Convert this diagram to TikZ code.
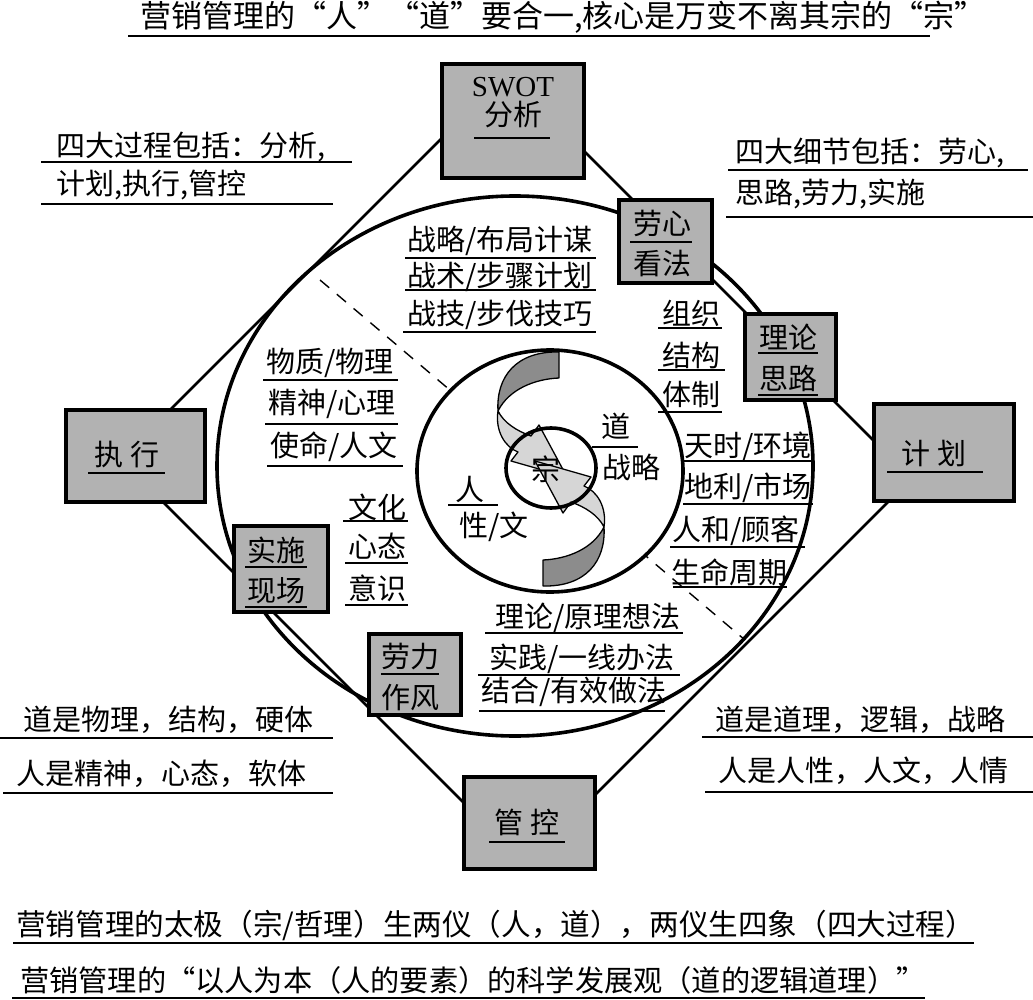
\documentclass[tikz,border=0pt]{standalone}
\usepackage{fontspec}
\setmainfont{Liberation Serif}
\newfontfamily\cjk{Noto Sans CJK SC}
\usetikzlibrary{calc}

\definecolor{boxgray}{gray}{0.70}
\definecolor{ribdark}{gray}{0.55}
\definecolor{riblight}{gray}{0.84}

\begin{document}
\begin{tikzpicture}[x=1pt,y=-1pt,
  lbl/.style={font=\cjk\fontsize{29}{34}\selectfont, inner sep=0pt},
  box/.style={draw, line width=4pt, fill=boxgray},
  ul/.style={line width=2pt},
  frame/.style={line width=2.6pt},
  ring/.style={line width=3.6pt},
  rib/.style={line width=1.3pt, line join=round},
  guide/.style={line width=1.4pt, dash pattern=on 12pt off 10pt}]
  \useasboundingbox (0,0) rectangle (1033,1000);

  % outer square of the four processes (corners hidden under the boxes)
  \coordinate (dT) at (506.5,73.5);
  \coordinate (dL) at (120.5,459.5);
  \coordinate (dB) at (525.5,864.5);
  \coordinate (dR) at (911.5,478.5);
  \draw[frame] (dT) -- (dL) -- (dB) -- (dR) -- cycle;

  % big ellipse of the four details
  \draw[ring] (515,466) ellipse [x radius=298pt, y radius=270pt];

  % dashed split, covered in the middle by the inner ellipse
  \coordinate (dashA) at (320,280);
  \coordinate (dashB) at (745,640);
  \draw[guide] (dashA) -- (dashB);

  % inner ellipse with the two twisted ribbons (ren / dao)
  \filldraw[ring, fill=white] (550,471) ellipse [x radius=133pt, y radius=121pt];
  \foreach \ang in {0,180} {
    \begin{scope}[shift={(551,469)}, rotate=\ang]
      \filldraw[rib, fill=ribdark] (8,-117) .. controls (-35,-118) and (-55,-92) .. (-53,-58)
        .. controls (-42,-80) and (-16,-90) .. (8,-91) -- cycle;
      \filldraw[rib, fill=riblight] (-53,-58) .. controls (-56,-38) and (-46,-22) .. (-33,-17)
        -- (-40,-8) -- (16,8) -- (-12,-44) -- (-20,-33)
        .. controls (-34,-38) and (-47,-46) .. (-53,-58) -- cycle;
    \end{scope}
  }
  \draw[ring] (551,468) ellipse [x radius=45pt, y radius=40pt];
  \node[lbl] (zong) at (546,469) {宗};

  % headline
  \node[lbl, font=\cjk\fontsize{31}{34}\selectfont] (title) at (563,17) {营销管理的“人”“道”要合一,核心是万变不离其宗的“宗”};
  \draw[ul] (128,36) -- (930,36);

  % side notes, top
  \node[lbl, anchor=west] (proc1) at (56,147) {四大过程包括：分析,};
  \draw[ul] (41,162) -- (352,162);
  \node[lbl, anchor=west] (proc2) at (56,185) {计划,执行,管控};
  \draw[ul] (41,204) -- (333,204);
  \node[lbl, anchor=west] (det1) at (735,153) {四大细节包括：劳心,};
  \draw[ul] (728,170) -- (1028,170);
  \node[lbl, anchor=west] (det2) at (735,194) {思路,劳力,实施};
  \draw[ul] (726,217) -- (1033,217);

  % boxes
  \node[box, minimum width=142pt, minimum height=114pt] (swot) at (513,121) {};
  \node[font=\fontsize{29}{34}\selectfont, inner sep=0pt] (swotA) at (513,87) {SWOT};
  \node[lbl] (swotB) at (513,115) {分析};
  \draw[ul] (474,138) -- (550,138);

  \node[box, minimum width=93pt, minimum height=83pt] (laoxin) at (665.5,241.5) {};
  \node[lbl] (laoxinA) at (662,223) {劳心};
  \draw[ul] (630,242) -- (692,242);
  \node[lbl] (laoxinB) at (662,264) {看法};

  \node[box, minimum width=91pt, minimum height=86pt] (lilun) at (790.5,357) {};
  \node[lbl] (lilunA) at (788,337) {理论};
  \draw[ul] (758,353) -- (818,353);
  \node[lbl] (lilunB) at (788,378) {思路};
  \draw[ul] (758,395) -- (818,395);

  \node[box, minimum width=140pt, minimum height=97pt] (jihua) at (944,452.5) {};
  \node[lbl] (jihuaA) at (934,453) {计 划};
  \draw[ul] (887,472) -- (983,472);

  \node[box, minimum width=139pt, minimum height=92pt] (zhixing) at (135.5,456) {};
  \node[lbl] (zhixingA) at (127,455) {执 行};
  \draw[ul] (88,473) -- (165,473);

  \node[box, minimum width=94pt, minimum height=86pt] (shishi) at (281,569) {};
  \node[lbl] (shishiA) at (276,550) {实施};
  \draw[ul] (245,567) -- (307,567);
  \node[lbl] (shishiB) at (276,591) {现场};
  \draw[ul] (245,607) -- (307,607);

  \node[box, minimum width=92pt, minimum height=81pt] (laoli) at (415,674.5) {};
  \node[lbl] (laoliA) at (410,657) {劳力};
  \draw[ul] (381,674) -- (439,674);
  \node[lbl] (laoliB) at (410,698) {作风};

  \node[box, minimum width=131pt, minimum height=92pt] (guankong) at (529.5,823) {};
  \node[lbl] (guankongA) at (527,822) {管 控};
  \draw[ul] (489,842) -- (565,842);

  % labels inside the big ellipse
  \node[lbl] (zl1) at (500,241) {战略/布局计谋};
  \draw[ul] (405,258) -- (596,258);
  \node[lbl] (zl2) at (500,277) {战术/步骤计划};
  \draw[ul] (405,290) -- (596,290);
  \node[lbl] (zl3) at (500,315) {战技/步伐技巧};
  \draw[ul] (403,332) -- (596,332);

  \node[lbl] (zz1) at (691,313) {组织};
  \draw[ul] (658,328) -- (722,328);
  \node[lbl] (zz2) at (691,355) {结构};
  \draw[ul] (658,370) -- (725,370);
  \node[lbl] (zz3) at (691,395) {体制};
  \draw[ul] (658,412) -- (722,412);

  \node[lbl] (ts1) at (748,447) {天时/环境};
  \draw[ul] (683,461) -- (813,461);
  \node[lbl] (ts2) at (748,488) {地利/市场};
  \draw[ul] (683,504) -- (813,504);
  \node[lbl] (ts3) at (736,531) {人和/顾客};
  \draw[ul] (670,547) -- (805,547);
  \node[lbl] (ts4) at (729,572) {生命周期};
  \draw[ul] (673,587) -- (787,587);

  \node[lbl] (dao) at (616,426) {道};
  \draw[ul] (592,447) -- (638,447);
  \node[lbl] (dao2) at (631,467) {战略};
  \node[lbl] (ren) at (470,489) {人};
  \draw[ul] (448,505) -- (498,505);
  \node[lbl] (ren2) at (494,527) {性/文};

  \node[lbl] (wz1) at (330,363) {物质/物理};
  \draw[ul] (263,380) -- (398,380);
  \node[lbl] (wz2) at (332,404) {精神/心理};
  \draw[ul] (265,424) -- (398,424);
  \node[lbl] (wz3) at (334,447) {使命/人文};
  \draw[ul] (267,466) -- (403,466);

  \node[lbl] (wh1) at (377,507) {文化};
  \draw[ul] (343,521) -- (408,521);
  \node[lbl] (wh2) at (377,546) {心态};
  \draw[ul] (345,563) -- (408,563);
  \node[lbl] (wh3) at (377,588) {意识};
  \draw[ul] (345,605) -- (408,605);

  \node[lbl] (ll1) at (588,618) {理论/原理想法};
  \draw[ul] (485,633) -- (683,633);
  \node[lbl] (ll2) at (582,659) {实践/一线办法};
  \draw[ul] (478,675) -- (680,675);
  \node[lbl] (ll3) at (574,692) {结合/有效做法};
  \draw[ul] (479,711) -- (665,711);

  % side notes, bottom
  \node[lbl, anchor=west] (wl1) at (23,720) {道是物理，结构，硬体};
  \draw[ul] (0,738) -- (333,738);
  \node[lbl, anchor=west] (wl2) at (16,774) {人是精神，心态，软体};
  \draw[ul] (3,793) -- (333,793);
  \node[lbl, anchor=west] (dl1) at (715,720) {道是道理，逻辑，战略};
  \draw[ul] (702,737) -- (1033,737);
  \node[lbl, anchor=west] (dl2) at (718,771) {人是人性，人文，人情};
  \draw[ul] (705,792) -- (1033,792);

  % closing lines
  \node[lbl, anchor=west, font=\cjk\fontsize{29.6}{34}\selectfont] (tj1) at (16,925) {营销管理的太极（宗/哲理）生两仪（人，道），两仪生四象（四大过程）};
  \draw[ul] (13,943) -- (974,943);
  \node[lbl, anchor=west, font=\cjk\fontsize{29.2}{34}\selectfont] (tj2) at (20,980) {营销管理的“以人为本（人的要素）的科学发展观（道的逻辑道理）”};
  \draw[ul] (12,998) -- (925,998);
\end{tikzpicture}
\end{document}
